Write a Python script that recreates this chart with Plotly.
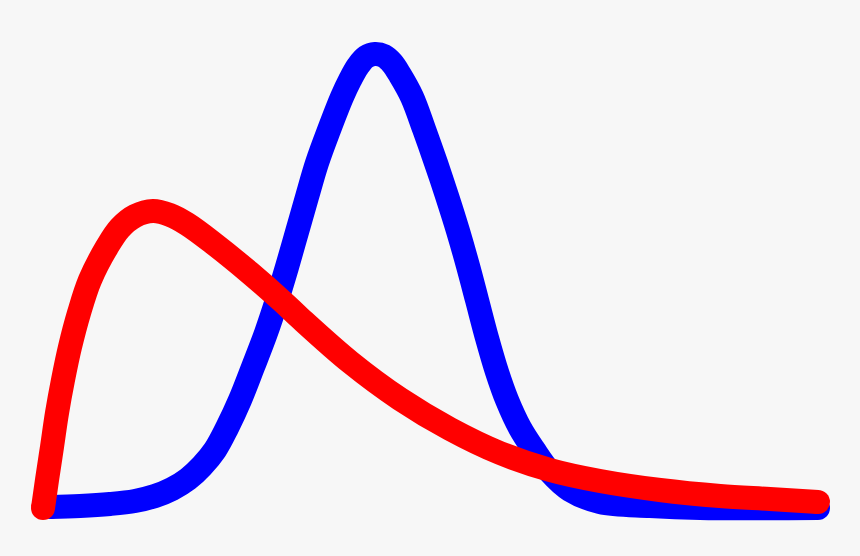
import plotly.graph_objs as go

# values (x from the left end, y up from the baseline)
blue_x = [8, 38, 68, 93, 113, 130, 146, 160, 173, 185, 198, 211, 224, 235, 245, 255, 265,
          275, 287, 300, 308, 316, 324, 333, 342, 350, 358, 370, 382, 394, 405, 416, 426,
          435, 445, 455, 465, 478, 492, 508, 528, 558, 608, 658, 776]
blue_y = [2, 3, 5, 8, 13, 20, 30, 43, 59, 81, 109, 142, 176, 209, 242, 277, 312,
          346, 379, 412, 429, 443, 452, 455, 453, 446, 434, 412, 380, 346, 313, 278, 243,
          209, 171, 137, 109, 81, 59, 37, 19, 7, 3, 1, 1]

red_x = [1, 5, 10, 15, 21, 28, 37, 48, 65, 78, 93, 111, 128, 145, 171, 208, 241, 258,
         308, 358, 408, 458, 508, 558, 618, 678, 728, 776]
red_y = [1, 29, 62, 96, 129, 162, 196, 229, 262, 281, 293, 298, 294, 285, 266, 236, 207, 191,
         147, 110, 80, 56, 39, 28, 19, 13, 10, 7]

width = 24

fig = go.Figure()
for xs, ys, col in [(blue_x, blue_y, '#0000ff'), (red_x, red_y, '#ff0000')]:
    fig.add_trace(go.Scatter(x=xs, y=ys, mode='lines',
                             line=dict(color=col, width=width, shape='spline', smoothing=1.0),
                             hoverinfo='skip'))
    # round caps at both ends
    fig.add_trace(go.Scatter(x=[xs[0], xs[-1]], y=[ys[0], ys[-1]], mode='markers',
                             marker=dict(color=col, size=width, line=dict(width=0)),
                             hoverinfo='skip'))

fig.update_layout(
    width=860, height=556,
    margin=dict(l=0, r=0, t=0, b=0),
    paper_bgcolor='#f7f7f7', plot_bgcolor='#f7f7f7',
    showlegend=False,
    xaxis=dict(range=[-42, 818], visible=False, fixedrange=True),
    yaxis=dict(range=[-47, 509], visible=False, fixedrange=True),
)
fig.write_html("out.html", config={'displayModeBar': False},
               post_script="document.body.style.margin='0';document.body.style.background='#f7f7f7';")
